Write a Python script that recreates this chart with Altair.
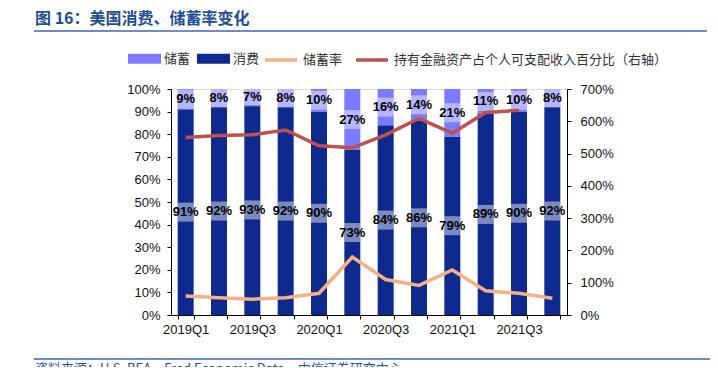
import altair as alt
import pandas as pd

quarters = ['2019Q1', '2019Q2', '2019Q3', '2019Q4', '2020Q1', '2020Q2',
            '2020Q3', '2020Q4', '2021Q1', '2021Q2', '2021Q3', '2021Q4']
x_labels_shown = ['2019Q1', '2019Q3', '2020Q1', '2020Q3', '2021Q1', '2021Q3']
saving_share = [9, 8, 7, 8, 10, 27, 16, 14, 21, 11, 10, 8]
consumption_share = [91, 92, 93, 92, 90, 73, 84, 86, 79, 89, 90, 92]
saving_rate = [8.4, 7.6, 7.0, 7.6, 9.6, 25.6, 15.7, 13.1, 19.9, 10.7, 9.6, 7.4]
asset_ratio = [550, 556, 558, 573, 524, 518, 558, 609, 563, 627, 634, None]
left_ticks = list(range(0, 101, 10))
right_ticks = list(range(0, 701, 100))

bar_names = ['储蓄', '消费']
bar_colors = ['#7B7BFF', '#0F2A8F']
line_names = ['储蓄率', '持有金融资产占个人可支配收入百分比（右轴）']
line_colors = ['#F4B183', '#C0504D']

title_text = '图 16：美国消费、储蓄率变化'
source_text = '资料来源：U.S. BEA，Fred Economic Data，中信证券研究中心'

CJK = 'Noto Sans CJK SC'
LAT = 'Liberation Sans'

rows = []
for q, s, c in zip(quarters, saving_share, consumption_share):
    rows.append({'quarter': q, 'type': '消费', 'value': c, 'ord': 0,
                 'center': c / 2, 'label': f'{c}%'})
    rows.append({'quarter': q, 'type': '储蓄', 'value': s, 'ord': 1,
                 'center': c + s / 2, 'label': f'{s}%'})
bar_df = pd.DataFrame(rows)

rate_df = pd.DataFrame({'quarter': quarters, 'value': saving_rate,
                        'series': line_names[0]})
asset_df = pd.DataFrame({'quarter': quarters, 'value': asset_ratio,
                         'series': line_names[1]}).dropna()

shown_js = "[" + ",".join(f"'{v}'" for v in x_labels_shown) + "]"
x_enc = alt.X(
    'quarter:N', sort=quarters, title=None,
    scale=alt.Scale(paddingInner=0.52, paddingOuter=0.2),
    axis=alt.Axis(labelAngle=0, tickBand='extent',
                  labelExpr=f"indexof({shown_js}, datum.value) >= 0 ? datum.value : ''",
                  labelFont=LAT, labelFontSize=13, labelColor='#111',
                  domainColor='#000', tickColor='#000', tickSize=4,
                  labelPadding=4, labelOverlap=False),
)
yL = alt.Scale(domain=[0, 100], nice=False, zero=True)
yR = alt.Scale(domain=[0, 700], nice=False, zero=True)

left_axis = alt.Axis(values=left_ticks, labelExpr="datum.value + '%'", title=None,
                     orient='left', grid=False, labelFont=LAT, labelFontSize=13,
                     labelColor='#111', domainColor='#000', tickColor='#000',
                     tickSize=4, labelPadding=7)
right_axis = alt.Axis(values=right_ticks, labelExpr="datum.value + '%'", title=None,
                      orient='right', grid=False, labelFont=LAT, labelFontSize=13,
                      labelColor='#111', domainColor='#000', tickColor='#000',
                      tickSize=4, labelPadding=9)

fill_legend = alt.Legend(orient='none', legendX=-43, legendY=-47, direction='horizontal',
                         title=None, symbolType='M-1,-0.3H1V0.3H-1Z', symbolSize=1089,
                         symbolStrokeWidth=0, symbolOpacity=1, labelFont=CJK, labelFontSize=13,
                         labelColor='#333', labelOffset=3, columnPadding=6, padding=0,
                         labelLimit=0)
stroke_legend = alt.Legend(orient='none', legendX=92, legendY=-47, direction='horizontal',
                           title=None, symbolType='stroke', symbolSize=1024,
                           symbolStrokeWidth=3.5, labelFont=CJK, labelFontSize=13,
                           labelColor='#333', labelOffset=4, columnPadding=6, padding=0,
                           labelLimit=0)

bars = alt.Chart(bar_df).mark_bar().encode(
    x=x_enc,
    y=alt.Y('value:Q', stack='zero', scale=yL, axis=left_axis),
    fill=alt.Fill('type:N', scale=alt.Scale(domain=bar_names, range=bar_colors),
                  legend=fill_legend),
    order=alt.Order('ord:Q'),
)
boxes = alt.Chart(bar_df).mark_tick(color='white', opacity=0.45, thickness=19, size=16).encode(
    x=x_enc, y=alt.Y('center:Q', scale=yL, axis=None),
)
labels = alt.Chart(bar_df).mark_text(font=LAT, fontSize=13, fontWeight='bold', color='#000').encode(
    x=x_enc, y=alt.Y('center:Q', scale=yL, axis=None), text='label:N',
)
stroke_scale = alt.Scale(domain=line_names, range=line_colors)
orange = alt.Chart(rate_df).mark_line(strokeWidth=3.5).encode(
    x=x_enc, y=alt.Y('value:Q', scale=yL, axis=None),
    stroke=alt.Stroke('series:N', scale=stroke_scale, legend=stroke_legend),
)
red = alt.Chart(asset_df).mark_line(strokeWidth=3.5).encode(
    x=x_enc, y=alt.Y('value:Q', scale=yR, axis=right_axis),
    stroke=alt.Stroke('series:N', scale=stroke_scale, legend=stroke_legend),
)

one = alt.Data(values=[{}])
title_mark = alt.Chart(one).mark_text(text=title_text, font=CJK, fontSize=16, fontWeight='bold',
                                      color='#1F4E99', align='left', baseline='middle').encode(
    x=alt.value(-136), y=alt.value(-70))
title_rule = alt.Chart(one).mark_rule(color='#3E64B0', strokeWidth=1.5).encode(
    x=alt.value(-137), x2=alt.value(536), y=alt.value(-58))
source_rule = alt.Chart(one).mark_rule(color='#3E64B0', strokeWidth=1.5).encode(
    x=alt.value(-137), x2=alt.value(547), y=alt.value(270))
source_mark = alt.Chart(one).mark_text(text=source_text, font=CJK, fontSize=13,
                                       color='#1F4E99', align='left', baseline='top').encode(
    x=alt.value(-136), y=alt.value(274))

chart = alt.layer(bars, boxes, orange, red, labels,
                  title_mark, title_rule, source_rule, source_mark).resolve_scale(
    y='independent'
).properties(
    width=396, height=226,
    padding={'left': 163, 'top': 81, 'right': 143, 'bottom': 52},
    autosize=alt.AutoSizeParams(type='none'),
).configure_view(stroke=None).configure(background='white')

chart.save('out.html', embed_options={'renderer': 'svg', 'actions': False})
